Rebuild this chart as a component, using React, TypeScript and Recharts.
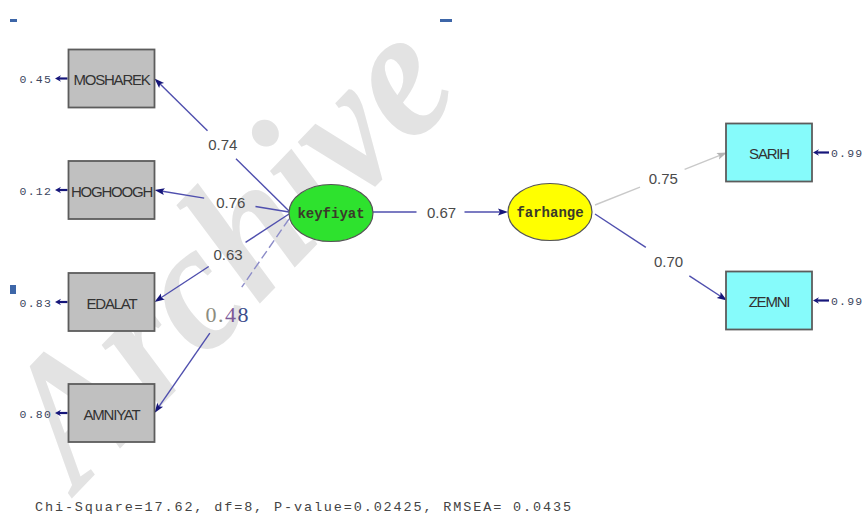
import { ScatterChart, Scatter, XAxis, YAxis, ReferenceLine, ReferenceDot } from 'recharts'

const W = 865
const H = 518

// first factor and its indicators
const leftIndicators = ['MOSHAREK', 'HOGHOOGH', 'EDALAT', 'AMNIYAT']
const leftLoadings = [0.74, 0.76, 0.63, 0.48]
const leftErrors = [0.45, 0.12, 0.83, 0.8]

// second factor and its indicators
const rightIndicators = ['SARIH', 'ZEMNI']
const rightLoadings = [0.75, 0.7]
const rightErrors = [0.99, 0.99]

const latents = ['keyfiyat', 'farhange']
const structuralPath = [0.67]

const fitText = 'Chi-Square=17.62, df=8, P-value=0.02425, RMSEA= 0.0435'

// diagram layout (data space == pixel space)
const BOX_W = 86
const BOX_H = 58
const RX = 42
const RY = 28.5
const leftX = 111.5
const rightX = 769
const leftY = [78.5, 190, 302, 413]
const rightY = [152.5, 300.5]
const latentX = [331, 550]
const latentY = [213, 212]
const leftStartDy = [-2, -1, 1, 6]
const leftLabelT = [0.5, 0.44, 0.46, 0.47]
const leftGap = [20, 26, 22, 28]
const rightStartDy = [-7, -2]
const rightLabelT = [0.51, 0.55]
const rightGap = [24, 26]

const LINE = '#4f4fae'
const HEAD = '#16167a'
const GREY_LINE = '#c9c9c9'
const GREY_HEAD = '#b4b4b4'
const LABEL = '#4a4a4a'

const fmt = (v: number) => v.toFixed(2)

const leftBoxes = leftIndicators.map((name, i) => ({ x: leftX, y: leftY[i], name }))
const rightBoxes = rightIndicators.map((name, i) => ({ x: rightX, y: rightY[i], name }))
const latentNodes = latents.map((name, i) => ({ x: latentX[i], y: latentY[i], name, fill: i === 0 ? '#2ee22e' : '#ffff00' }))

type EdgeInfo = {
  from: [number, number]
  to: [number, number]
  label: string
  t: number
  gap: number
  grey?: boolean
  fancy?: boolean
}

const edges: EdgeInfo[] = [
  ...leftIndicators.map((_, i) => ({
    from: [latentX[0] - RX, latentY[0] + leftStartDy[i]] as [number, number],
    to: [leftX + BOX_W / 2, leftY[i]] as [number, number],
    label: fmt(leftLoadings[i]),
    t: leftLabelT[i],
    gap: leftGap[i],
    fancy: i === 3,
  })),
  {
    from: [latentX[0] + RX, latentY[0] - 1],
    to: [latentX[1] - RX, latentY[1]],
    label: fmt(structuralPath[0]),
    t: 0.5,
    gap: 24,
  },
  ...rightIndicators.map((_, i) => ({
    from: [latentX[1] + RX + 3, latentY[1] + rightStartDy[i] + i * 4] as [number, number],
    to: [rightX - BOX_W / 2 + 1, rightY[i]] as [number, number],
    label: fmt(rightLoadings[i]),
    t: rightLabelT[i],
    gap: rightGap[i],
    grey: i === 0,
  })),
]

type ErrInfo = { from: [number, number]; to: [number, number]; label: string; side: 'left' | 'right' }
const errs: ErrInfo[] = [
  ...leftErrors.map((v, i) => ({
    from: [leftX - BOX_W / 2 - 1, leftY[i]] as [number, number],
    to: [55, leftY[i]] as [number, number],
    label: fmt(v),
    side: 'left' as const,
  })),
  ...rightErrors.map((v, i) => ({
    from: [829, rightY[i]] as [number, number],
    to: [rightX + BOX_W / 2 + 1, rightY[i]] as [number, number],
    label: fmt(v),
    side: 'right' as const,
  })),
]

function head(x2: number, y2: number, ux: number, uy: number, len: number, hw: number) {
  const bx = x2 - ux * len
  const by = y2 - uy * len
  const nx = -uy
  const ny = ux
  return `${x2},${y2} ${bx + nx * hw},${by + ny * hw} ${bx + ux * 2},${by + uy * 2} ${bx - nx * hw},${by - ny * hw}`
}

function EdgeShape(props: any) {
  const { x1, y1, x2, y2, edge } = props as { x1: number; y1: number; x2: number; y2: number; edge: EdgeInfo }
  const dx = x2 - x1
  const dy = y2 - y1
  const len = Math.hypot(dx, dy)
  const ux = dx / len
  const uy = dy / len
  const px = x1 + dx * edge.t
  const py = y1 + dy * edge.t
  const stroke = edge.grey ? GREY_LINE : LINE
  const fill = edge.grey ? GREY_HEAD : HEAD
  return (
    <g>
      <line
        x1={x1}
        y1={y1}
        x2={px - ux * edge.gap}
        y2={py - uy * edge.gap}
        stroke={edge.fancy ? '#8c8cc8' : stroke}
        strokeWidth={1.4}
        strokeDasharray={edge.fancy ? '9 4' : undefined}
      />
      <line x1={px + ux * edge.gap} y1={py + uy * edge.gap} x2={x2 - ux * 5} y2={y2 - uy * 5} stroke={stroke} strokeWidth={1.4} />
      <polygon points={head(x2, y2, ux, uy, 10, 3.5)} fill={fill} />
      {edge.fancy ? (
        <text x={px + 2} y={py + 4} textAnchor="middle" dominantBaseline="central" fontFamily="Liberation Serif" fontSize={22} letterSpacing={1.5}>
          <tspan fill="#8c8c80">0.</tspan>
          <tspan fill="#7d5a98">4</tspan>
          <tspan fill="#3c4c8c">8</tspan>
        </text>
      ) : (
        <text x={px + 1} y={py} textAnchor="middle" dominantBaseline="central" fontFamily="Liberation Sans" fontSize={15} fill={LABEL}>
          {edge.label}
        </text>
      )}
    </g>
  )
}

function ErrShape(props: any) {
  const { x1, y1, x2, y2, err } = props as { x1: number; y1: number; x2: number; y2: number; err: ErrInfo }
  const ux = Math.sign(x2 - x1)
  return (
    <g>
      <line x1={x1} y1={y1} x2={x2 - ux * 4} y2={y2} stroke={HEAD} strokeWidth={2.2} />
      <polygon points={head(x2, y2, ux, 0, 6, 3.2)} fill={HEAD} />
      <text
        x={err.side === 'left' ? x2 - 3 : x1 + 2}
        y={y1 + 1}
        textAnchor={err.side === 'left' ? 'end' : 'start'}
        dominantBaseline="central"
        fontFamily="Liberation Mono"
        fontSize={11.5}
        letterSpacing={1.2}
        fill="#3c4660"
      >
        {err.label}
      </text>
    </g>
  )
}

function BoxShape(props: any) {
  const { cx, cy, payload, fill } = props
  return (
    <g>
      <rect x={cx - BOX_W / 2} y={cy - BOX_H / 2} width={BOX_W} height={BOX_H} fill={fill} stroke="#5c5c5c" strokeWidth={1.8} />
      <text
        x={cx}
        y={cy + 1}
        textAnchor="middle"
        dominantBaseline="central"
        fontFamily="Liberation Sans Narrow, Liberation Sans"
        fontSize={15}
        letterSpacing={-1.2}
        fill="#333"
      >
        {payload.name}
      </text>
    </g>
  )
}

function LatentShape(props: any) {
  const { cx, cy, payload } = props
  return (
    <g>
      <ellipse cx={cx} cy={cy} rx={RX} ry={RY} fill={payload.fill} stroke="#555" strokeWidth={1.2} />
      <text x={cx} y={cy + 1} textAnchor="middle" dominantBaseline="central" fontFamily="Liberation Mono" fontWeight="bold" fontSize={14} fill="#3a3a2a">
        {payload.name}
      </text>
    </g>
  )
}

export default function App() {
  return (
    <div style={{ position: 'absolute', left: 0, top: 0, width: W, height: H, background: '#fff' }}>
      <svg width={W} height={H} style={{ position: 'absolute', left: 0, top: 0 }}>
        <text
          x={78}
          y={492}
          transform="rotate(-46 78 492)"
          fontFamily="Liberation Serif"
          fontStyle="italic"
          fontWeight="bold"
          fontSize={185}
          textLength={555}
          lengthAdjust="spacingAndGlyphs"
          fill="#e3e3e3"
        >
          Archive
        </text>
        <rect x={10} y={19} width={7} height={3} fill="#3d66a8" />
        <rect x={440} y={19} width={12} height={3} fill="#3d66a8" />
        <rect x={10} y={285} width={6} height={9} fill="#3d66a8" />
      </svg>
      <div style={{ position: 'absolute', left: 0, top: 0 }}>
        <ScatterChart width={W} height={H} margin={{ top: 0, right: 0, bottom: 0, left: 0 }}>
          <XAxis type="number" dataKey="x" domain={[0, W]} hide />
          <YAxis type="number" dataKey="y" domain={[0, H]} reversed hide width={0} />
          {edges.map((e, i) => (
            <ReferenceLine
              key={'e' + i}
              segment={[{ x: e.from[0], y: e.from[1] }, { x: e.to[0], y: e.to[1] }]}
              ifOverflow="visible"
              shape={(p: any) => <EdgeShape {...p} edge={e} />}
            />
          ))}
          {errs.map((e, i) => (
            <ReferenceLine
              key={'r' + i}
              segment={[{ x: e.from[0], y: e.from[1] }, { x: e.to[0], y: e.to[1] }]}
              ifOverflow="visible"
              shape={(p: any) => <ErrShape {...p} err={e} />}
            />
          ))}
          <Scatter data={leftBoxes} fill="#c0c0c0" shape={BoxShape} isAnimationActive={false} />
          <Scatter data={rightBoxes} fill="#86fbfb" shape={BoxShape} isAnimationActive={false} />
          <Scatter data={latentNodes} shape={LatentShape} isAnimationActive={false} />
          <ReferenceDot
            x={35}
            y={507}
            ifOverflow="visible"
            shape={(p: any) => (
              <text
                x={p.cx}
                y={p.cy}
                dominantBaseline="central"
                fontFamily="Liberation Mono"
                fontSize={13.5}
                textLength={536}
                lengthAdjust="spacing"
                fill="#444"
              >
                {fitText}
              </text>
            )}
          />
        </ScatterChart>
      </div>
    </div>
  )
}
